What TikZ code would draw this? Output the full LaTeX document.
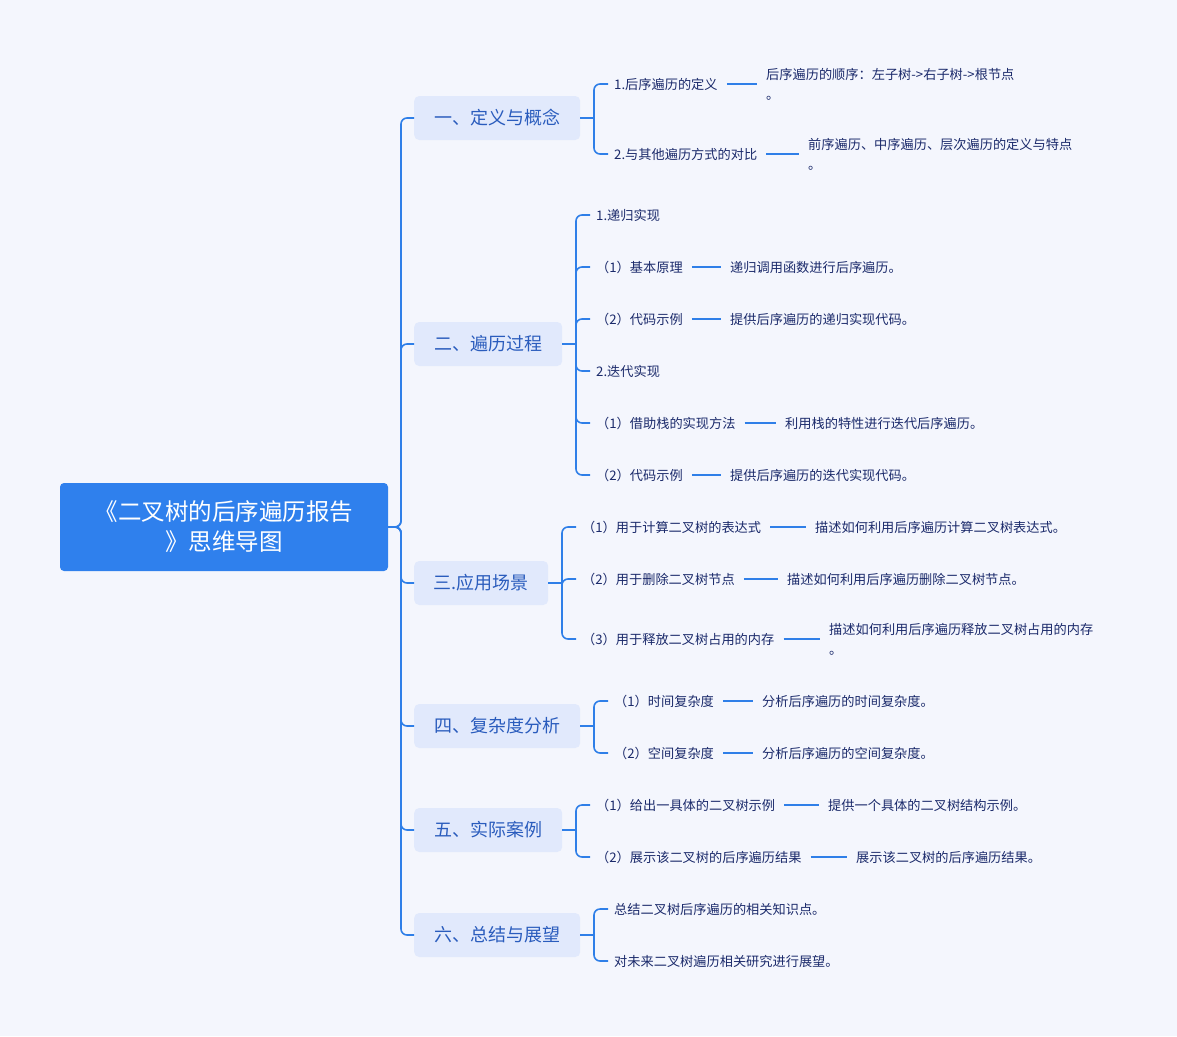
\documentclass[tikz,border=0pt]{standalone}
\usepackage{fontspec}
\setmainfont{Noto Sans CJK SC}
\definecolor{bg}{HTML}{F4F6FD}
\definecolor{ln}{HTML}{2F7FE8}
\definecolor{rootc}{HTML}{2F80ED}
\definecolor{brf}{HTML}{E1E9FC}
\definecolor{brt}{HTML}{2A5CBD}
\definecolor{lt}{HTML}{1B2A6B}
\tikzset{
 conn/.style={draw=ln,line width=1.6pt,rounded corners=6pt},
 rootbox/.style={fill=rootc,rounded corners=4pt,text=white,minimum width=328pt,minimum height=88pt,align=center,font=\fontsize{23.5}{30}\selectfont},
 brbox/.style={fill=brf,rounded corners=5pt,text=brt,minimum height=44pt,anchor=west,inner xsep=0pt,font=\fontsize{18}{22}\selectfont},
 item/.style={text=lt,anchor=west,inner xsep=0pt,inner ysep=1pt,align=left,font=\fontsize{13.2}{20}\selectfont},
}
\newcommand{\br}[5]{% name, y, width, text, bracket x
 \node[brbox,minimum width=#3pt] (#1) at (414,#2) {\makebox[#3pt]{#4}};
 \draw[conn] (#1.east) -- (#5,#2);
}
\newcommand{\ch}[5]{% name, bx, by, x, y, text
 \node[item] (#1) at (#4,#5) {\csname txt#1\endcsname};
 \draw[conn] (#2,#3) |- ([xshift=-6pt]#1.west);
}
\newcommand{\lf}[4]{% name, from, x, text
 \node[item] (#1) at (#3,0 |- #2) {#4};
 \draw[draw=ln,line width=1.6pt] ([xshift=9pt]#2.east) -- ([xshift=-9pt]#1.west);
}
\begin{document}
\begin{tikzpicture}[x=1pt,y=-1pt]
\fill[bg] (0,0) rectangle (1177,1036);
\useasboundingbox (0,0) rectangle (1177,1036);
\node[rootbox] (root) at (224,527) {《二叉树的后序遍历报告\\》思维导图};
\foreach \n/\y/\w/\t/\bx in {a/118/166/一、定义与概念/594, b/344/148/二、遍历过程/576, c/583/134/三.应用场景/562, d/726/166/四、复杂度分析/594, e/830/148/五、实际案例/576, f/935/166/六、总结与展望/594}{
 \br{\n}{\y}{\w}{\t}{\bx}
 \draw[conn] (root.east) -- (401,527) |- (\n.west);
}
% children
\def\C#1#2#3#4#5{\node[item] (#1) at (#4,#5) {#2}; \draw[conn] (#3,#5) -- (#3,{#5}) ; }
\newcommand{\kid}[5]{% name, text, bx, by, x/y
 \node[item] (#1) at #5 {#2};
 \draw[conn] (#3,#4) |- ([xshift=-6pt]#1.west);
}
\kid{a1}{1.后序遍历的定义}{594}{118}{(614,84)}
\kid{a2}{2.与其他遍历方式的对比}{594}{118}{(614,154)}
\lf{a1l}{a1}{766}{后序遍历的顺序：左子树->右子树->根节点\\。}
\lf{a2l}{a2}{808}{前序遍历、中序遍历、层次遍历的定义与特点\\。}

\kid{b1}{1.递归实现}{576}{344}{(596,215)}
\kid{b2}{（1）基本原理}{576}{344}{(596,267)}
\kid{b3}{（2）代码示例}{576}{344}{(596,319)}
\kid{b4}{2.迭代实现}{576}{344}{(596,371)}
\kid{b5}{（1）借助栈的实现方法}{576}{344}{(596,423)}
\kid{b6}{（2）代码示例}{576}{344}{(596,475)}
\lf{b2l}{b2}{730}{递归调用函数进行后序遍历。}
\lf{b3l}{b3}{730}{提供后序遍历的递归实现代码。}
\lf{b5l}{b5}{785}{利用栈的特性进行迭代后序遍历。}
\lf{b6l}{b6}{730}{提供后序遍历的迭代实现代码。}

\kid{c1}{（1）用于计算二叉树的表达式}{562}{583}{(582,527)}
\kid{c2}{（2）用于删除二叉树节点}{562}{583}{(582,579)}
\kid{c3}{（3）用于释放二叉树占用的内存}{562}{583}{(582,639)}
\lf{c1l}{c1}{815}{描述如何利用后序遍历计算二叉树表达式。}
\lf{c2l}{c2}{787}{描述如何利用后序遍历删除二叉树节点。}
\lf{c3l}{c3}{829}{描述如何利用后序遍历释放二叉树占用的内存\\。}

\kid{d1}{（1）时间复杂度}{594}{726}{(614,701)}
\kid{d2}{（2）空间复杂度}{594}{726}{(614,753)}
\lf{d1l}{d1}{762}{分析后序遍历的时间复杂度。}
\lf{d2l}{d2}{762}{分析后序遍历的空间复杂度。}

\kid{e1}{（1）给出一具体的二叉树示例}{576}{830}{(596,805)}
\kid{e2}{（2）展示该二叉树的后序遍历结果}{576}{830}{(596,857)}
\lf{e1l}{e1}{828}{提供一个具体的二叉树结构示例。}
\lf{e2l}{e2}{856}{展示该二叉树的后序遍历结果。}

\kid{f1}{总结二叉树后序遍历的相关知识点。}{594}{935}{(614,909)}
\kid{f2}{对未来二叉树遍历相关研究进行展望。}{594}{935}{(614,961)}
\end{tikzpicture}
\end{document}
